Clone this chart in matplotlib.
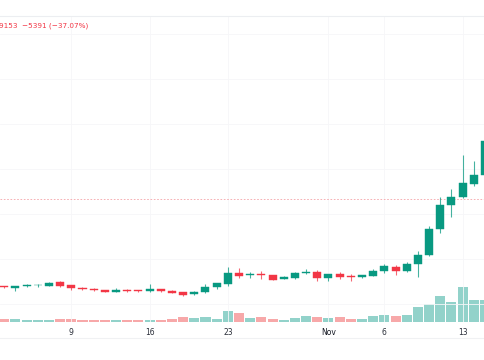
import matplotlib
matplotlib.use("Agg")
import matplotlib.pyplot as plt
from matplotlib.lines import Line2D
from matplotlib.patches import Rectangle

# Daily candles, Oct 3 -> Nov 15 (index 0 = Oct 3)
opens = [2461, 2392, 2470, 2516, 2498, 2654, 2516, 2406, 2360, 2300, 2222, 2300, 2300, 2240,
         2346, 2268, 2194, 2102, 2194, 2424, 2576, 3096, 2976, 3036, 2990, 2820, 2852, 3068,
         3142, 2866, 3036, 2930, 2884, 2958, 3160, 3372, 3160, 3496, 3924, 5106, 6210, 6592,
         7176, 7590]
highs = [2507, 2507, 2576, 2599, 2668, 2700, 2530, 2438, 2392, 2323, 2392, 2346, 2314, 2562,
         2369, 2300, 2222, 2240, 2576, 2622, 3372, 3312, 3114, 3188, 3013, 2958, 3128, 3266,
         3220, 3059, 3142, 3022, 3013, 3252, 3482, 3464, 3588, 4094, 5244, 6592, 6932, 8510,
         8248, 9200]
lows = [2392, 2268, 2438, 2438, 2484, 2461, 2300, 2314, 2240, 2208, 2208, 2231, 2222, 2222,
        2208, 2162, 2024, 2084, 2176, 2346, 2498, 2838, 2838, 2792, 2760, 2806, 2806, 3022,
        2714, 2714, 2806, 2714, 2861, 2944, 3068, 2990, 3142, 2912, 3887, 4936, 5644, 6555,
        7084, 7544]
closes = [2438, 2484, 2544, 2544, 2636, 2484, 2392, 2346, 2286, 2222, 2300, 2268, 2240, 2360,
          2254, 2176, 2070, 2222, 2438, 2608, 3096, 2944, 3050, 2990, 2774, 2884, 3068, 3142,
          2866, 3022, 2884, 2898, 2976, 3188, 3390, 3188, 3496, 3910, 5106, 6210, 6592, 7208,
          7590, 9153]
volumes = [270, 330, 230, 170, 170, 330, 300, 200, 200, 200, 200, 170, 170, 230, 170, 270,
           470, 370, 470, 300, 1100, 870, 400, 470, 270, 200, 370, 570, 530, 430, 470, 330,
           270, 570, 670, 630, 700, 1470, 1770, 2630, 2030, 3530, 2200, 2200]

tick_pos = [6, 13, 20, 29, 34, 41]
tick_labels = ["9", "16", "23", "Nov", "6", "13"]
ref_price = 6486
header = "9153  \u22125391 (\u221237.07%)"

up_col = "#089981"
down_col = "#F23645"
up_vol = "#92D2CA"
down_vol = "#F7A8A9"

W, H = 485, 360
fig = plt.figure(figsize=(W / 100, H / 100), dpi=100)
top_px, bot_px = 16, 322
ax = fig.add_axes([0, 1 - bot_px / H, 1, (bot_px - top_px) / H])
ax.set_xlim(-0.377, 43.0)
ax.set_ylim(828, 14904)

# volume on a twin axis so bars sit at the bottom of the pane
axv = ax.twinx()
axv.set_ylim(0, 30600)
axv.set_zorder(0)
ax.set_zorder(1)
ax.patch.set_visible(False)

for i in range(len(opens)):
    o, h, l, c = opens[i], highs[i], lows[i], closes[i]
    col = up_col if c >= o else down_col
    ax.vlines(i, l, h, color=col, linewidth=0.8, alpha=0.75, zorder=3)
    lo, hi = min(o, c), max(o, c)
    if hi - lo < 30:
        hi = lo + 30
    ax.add_patch(Rectangle((i - 0.36, lo), 0.72, hi - lo, facecolor=col,
                           edgecolor=col, linewidth=0.3, zorder=4))
    axv.bar(i, volumes[i], width=0.9, color=up_vol if c >= o else down_vol,
            linewidth=0)

# grid
for p in range(1660, 14904, 2070):
    ax.axhline(p, color="#f6f6f8", linewidth=0.6, zorder=0)
for t in tick_pos:
    ax.axvline(t, color="#f6f6f8", linewidth=0.6, zorder=0)

ax.axhline(ref_price, color="#F5A3A8", linewidth=0.6, linestyle=(0, (2, 2)),
           zorder=2)

ax.set_xticks(tick_pos)
ax.set_xticklabels(tick_labels, fontsize=5.5, color="#2a2e39")
ax.tick_params(axis="x", length=0, pad=4.5)
ax.set_yticks([])
axv.set_yticks([])
for a in (ax, axv):
    for s in a.spines.values():
        s.set_visible(False)
for lbl in ax.get_xticklabels():
    if lbl.get_text() == "Nov":
        lbl.set_color("#131722")

fig.text(-0.003, 1 - 26 / H, header, fontsize=5.2, color=down_col, va="center", ha="left")

fig.add_artist(Line2D([0, 1], [1 - 16 / H, 1 - 16 / H], color="#eceef1", linewidth=0.8))
fig.add_artist(Line2D([0, 1], [1 - 338 / H, 1 - 338 / H], color="#f0f1f3", linewidth=0.8))

fig.savefig("out.png", dpi=100)
